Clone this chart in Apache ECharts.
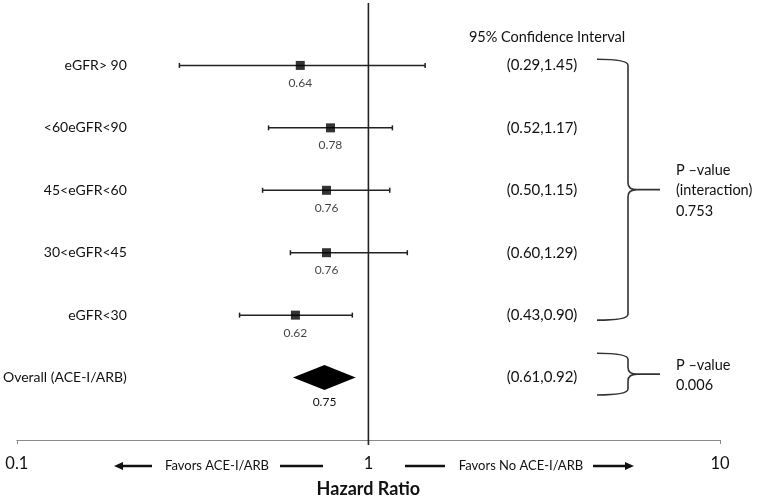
<!DOCTYPE html>
<html><head><meta charset="utf-8">
<script src="https://cdn.jsdelivr.net/npm/echarts@6/dist/echarts.min.js"></script>
<style>html,body{margin:0;padding:0;background:#fff}#c{width:769px;height:503px}</style>
</head><body><div id="c"></div>
<script>
const categories = ['eGFR> 90', '<60eGFR<90', '45<eGFR<60', '30<eGFR<45', 'eGFR<30', 'Overall (ACE-I/ARB)'];
const hazardRatio = [0.64, 0.78, 0.76, 0.76, 0.62, 0.75];
const ciLow = [0.29, 0.52, 0.50, 0.60, 0.43, 0.61];
const ciHigh = [1.45, 1.17, 1.15, 1.29, 0.90, 0.92];
const ciText = ['(0.29,1.45)', '(0.52,1.17)', '(0.50,1.15)', '(0.60,1.29)', '(0.43,0.90)', '(0.61,0.92)'];
const xTicks = [0.1, 1, 10];
const braceRanges = [[-0.1, 4.08], [4.61, 5.28]];
const braceLabels = ['P \u2013value\n(interaction)\n0.753', 'P \u2013value\n0.006'];

const FONT = 'Lato, "Open Sans", sans-serif';
const TXT = '#111';
const overallIdx = categories.length - 1;
const rowIdx = categories.map((_, i) => i);

const barData = rowIdx.filter(i => i !== overallIdx).map(i => [ciLow[i], ciHigh[i], i]);
const pointData = rowIdx.filter(i => i !== overallIdx).map(i => [hazardRatio[i], i]);
const diamondData = [[ciLow[overallIdx], hazardRatio[overallIdx], ciHigh[overallIdx], overallIdx]];

const chart = echarts.init(document.getElementById('c'), null, {renderer: 'canvas'});
chart.setOption({
  animation: false,
  backgroundColor: '#fff',
  grid: {left: 16.5, right: 49, top: 3, bottom: 61},
  title: {
    text: '95% Confidence Interval', left: 542, top: 25, textAlign: 'center',
    textStyle: {fontFamily: FONT, fontSize: 14.5, fontWeight: 'normal', color: TXT}
  },
  xAxis: {
    type: 'log', logBase: 10, min: 0.1, max: 10,
    axisLine: {onZero: false, lineStyle: {color: '#8a8a8a', width: 1}},
    axisTick: {show: true, length: 4, lineStyle: {color: '#8a8a8a'}},
    minorTick: {show: false},
    splitLine: {show: false},
    axisLabel: {
      fontFamily: FONT, fontSize: 16.5, color: TXT, margin: 15,
      formatter: v => (xTicks.some(t => Math.abs(t - v) < 1e-9) ? String(v) : '')
    },
    name: 'Hazard Ratio', nameLocation: 'middle', nameGap: 40,
    nameTextStyle: {fontFamily: FONT, fontSize: 18, fontWeight: 'bold', color: TXT}
  },
  yAxis: [{
    type: 'value', min: -1, max: 6, interval: 1, inverse: true,
    offset: -110,
    axisLine: {show: false}, axisTick: {show: false}, splitLine: {show: false},
    axisLabel: {
      fontFamily: FONT, fontSize: 14, color: TXT, margin: 0, align: 'right',
      formatter: v => categories[v] || ''
    }
  }, {
    type: 'value', min: -1, max: 6, interval: 1, inverse: true, position: 'right',
    offset: -178,
    axisLine: {show: false}, axisTick: {show: false}, splitLine: {show: false},
    axisLabel: {
      fontFamily: FONT, fontSize: 15, color: TXT, margin: 0, align: 'center',
      formatter: v => ciText[v] || ''
    }
  }],
  graphic: [
    {type: 'polygon', shape: {points: [[114, 466], [123, 462], [123, 470]]}, style: {fill: '#111'}},
    {type: 'line', shape: {x1: 122, y1: 466, x2: 152, y2: 466}, style: {stroke: '#111', lineWidth: 2.5}},
    {type: 'text', x: 217, y: 466, style: {text: 'Favors ACE-I/ARB', align: 'center', verticalAlign: 'middle', textAlign: 'center', textVerticalAlign: 'middle', font: '13px ' + FONT, fill: TXT}},
    {type: 'line', shape: {x1: 280, y1: 466, x2: 323, y2: 466}, style: {stroke: '#111', lineWidth: 2.5}},
    {type: 'line', shape: {x1: 405, y1: 466, x2: 445, y2: 466}, style: {stroke: '#111', lineWidth: 2.5}},
    {type: 'text', x: 521, y: 466, style: {text: 'Favors No ACE-I/ARB', align: 'center', verticalAlign: 'middle', textAlign: 'center', textVerticalAlign: 'middle', font: '13px ' + FONT, fill: TXT}},
    {type: 'line', shape: {x1: 593, y1: 466, x2: 626, y2: 466}, style: {stroke: '#111', lineWidth: 2.5}},
    {type: 'polygon', shape: {points: [[634, 466], [625, 462], [625, 470]]}, style: {fill: '#111'}}
  ],
  series: [
    {
      type: 'line', data: [[1, -1], [1, 6.08]], clip: false, symbol: 'none',
      lineStyle: {color: '#222', width: 1.6}, silent: true, z: 1
    },
    {
      type: 'custom', data: barData, encode: {x: [0, 1], y: 2}, z: 2,
      renderItem: (params, api) => {
        const a = api.coord([api.value(0), api.value(2)]);
        const b = api.coord([api.value(1), api.value(2)]);
        const st = {stroke: '#222', lineWidth: 1.5};
        return {type: 'group', children: [
          {type: 'line', shape: {x1: a[0], y1: a[1], x2: b[0], y2: b[1]}, style: st},
          {type: 'line', shape: {x1: a[0], y1: a[1] - 2.5, x2: a[0], y2: a[1] + 2.5}, style: st},
          {type: 'line', shape: {x1: b[0], y1: b[1] - 2.5, x2: b[0], y2: b[1] + 2.5}, style: st}
        ]};
      }
    },
    {
      type: 'scatter', data: pointData, symbol: 'rect', symbolSize: 9, z: 3,
      itemStyle: {color: '#000'},
      label: {show: true, position: 'bottom', distance: 7, fontFamily: FONT, fontSize: 12, color: TXT,
        formatter: p => p.value[0].toFixed(2)}
    },
    {
      type: 'custom', data: diamondData, encode: {x: [0, 1, 2], y: 3}, z: 3,
      renderItem: (params, api) => {
        const l = api.coord([api.value(0), api.value(3)]);
        const m = api.coord([api.value(1), api.value(3)]);
        const r = api.coord([api.value(2), api.value(3)]);
        const h = 12.5;
        return {type: 'group', children: [
          {type: 'polygon', shape: {points: [[l[0], l[1]], [m[0], m[1] - h], [r[0], r[1]], [m[0], m[1] + h]]}, style: {fill: '#000'}},
          {type: 'text', x: m[0], y: m[1] + 25, style: {text: api.value(1).toFixed(2), align: 'center', verticalAlign: 'middle', font: '12px ' + FONT, fill: TXT}}
        ]};
      }
    },
    {
      type: 'custom', data: braceRanges.map((r, i) => [r[0], r[1], i]), encode: {y: [0, 1]}, z: 2,
      renderItem: (params, api) => {
        const cs = params.coordSys;
        const right = cs.x + cs.width;
        const xl = right - 123, xv = right - 92, xt = right - 60;
        const top = api.coord([1, api.value(0)])[1];
        const bot = api.coord([1, api.value(1)])[1];
        const mid = (top + bot) / 2;
        const path = `M${xl},${top} Q${xv},${top} ${xv},${top + 6} L${xv},${mid - 7} Q${xv},${mid} ${xv + 9},${mid} L${xt},${mid} M${xv + 9},${mid} Q${xv},${mid} ${xv},${mid + 7} L${xv},${bot - 6} Q${xv},${bot} ${xl},${bot}`;
        return {type: 'group', children: [
          {type: 'path', shape: {pathData: path}, style: {stroke: '#333', lineWidth: 1.6, fill: null}},
          {type: 'text', x: xt + 16, y: mid + 1, style: {text: braceLabels[api.value(2)], align: 'left', verticalAlign: 'middle', lineHeight: 20.5, font: '14.5px ' + FONT, fill: TXT}}
        ]};
      }
    }
  ]
});
</script></body></html>
